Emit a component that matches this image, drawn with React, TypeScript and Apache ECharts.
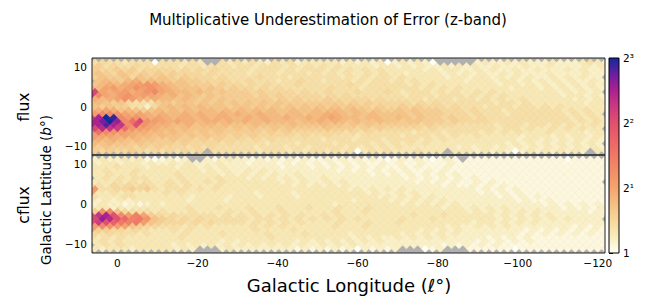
import React, { useEffect, useRef } from 'react';
import * as echarts from 'echarts';

// value levels: char index / 10 = log2(multiplicative underestimation); '.' = no data
const LEVELS = '0123456789ABCDEFGHIJKLMNOPQRSTU';

// top panel (flux): 25 rows from top (b≈+11) to bottom (b≈-11), 69 cells per row from l≈+6 to l≈-122
const FLUX_ROWS = [
  '4544344404 44343..434 3432434233 3332323230 232320.... .232232322 232223432',
  '5645445444 4434434443 4434443434 3434333323 3232322323 2322322232 232222323',
  '6556564555 5454545444 4344434344 4343434343 3333232332 2323223223 222323222',
  '6765765656 5655545444 4344434443 4343433434 3323333232 3232232322 232222322',
  '6766757667 6565554544 4454443444 4443434344 3433333233 2332323232 23232322.',
  '.787689787 7676655554 4544434454 4344434344 3434333333 2333233232 323232232',
  '78989ABCB9 8776665655 4545444544 4444543444 4434343333 3333233232 323232323',
  '98AB9ACBCA 9877767656 5545454444 4454443444 4444343434 3333332333 232323232',
  'LA9AB9ACDA 9887876766 6565555454 4544454445 4344434343 3434333333 33232323.',
  'MDA9BCABA9 8978767666 6656565555 5454544444 4434443444 3434343333 333233232',
  '989ACB9898 8787676766 6666565655 5655555454 4444344434 4343433433 333323232',
  '7876754446 7677676767 6767676666 6666565655 5554545444 4444344343 333333233',
  '7676644257 8787877767 7676767676 7676766565 5656555454 4434443443 434333332',
  '89A9787678 7878788787 8787877877 8788787676 6767666555 4544434444 444343433',
  'BDDCA9A989 8898988989 8898878878 8998787877 7767666555 4544434444 44434343.',
  'MPUTDBCA9A 9899898998 8989889889 89A9887887 7876766565 5454444444 444434343',
  'PRUQDGLCBA 9A99899898 9889888788 9898787787 7677666565 5554444444 444434343',
  'PPSPNDKCA9 9889788787 7787777877 7877676766 6666565554 4444344434 434343343',
  'LONMGCBA98 8787777767 6766767666 6766656565 5555454444 4444344343 34343433.',
  '.GDCBA9988 7877676766 6665656555 5555454544 4443444344 4434343433 343333233',
  'BAA9A98878 7767676656 5655555454 4544434444 4344434343 3433333233 323233232',
  '.989878776 6766565655 5454544444 4344434443 4444343433 3333333233 232323232',
  '8787767666 6565555454 4443444344 4434444343 4343433333 3333323232 32323232.',
  '7676665656 5554545444 4434443443 4444343434 3433333332 3233232323 232323232',
  '6565565454 54545.4444 4434443434 4343403434 3334333.33 3232320232 323232.32',
];

// bottom panel (cflux)
const CFLUX_ROWS = [
  '2322323101 212..21232 2121212121 1212121210 121210121. 1111111111 111011111',
  '3233233232 2323222322 2122212121 2121212112 1211211121 1111111111 111111111',
  '3334333233 3233232322 2222212221 2121212121 1212111211 1111111111 111111111',
  '3343334333 3333323232 2323222222 2221212121 2121121211 1111111111 111111111',
  '3343343333 3433333232 3232322322 2222222121 2121212121 1111111111 111111111',
  '.343434433 3343333433 3232323232 2322222222 2212121212 1211111111 111111111',
  '3334343433 4343343433 3333323232 2323222222 2221212121 1212111111 11111111.',
  '4435454543 4434333433 3333333232 3232322222 2222222121 1212121111 111111111',
  'B445565643 4443434333 3333333333 3333232323 2322222222 2121212111 111111111',
  'A334343333 4343333333 3323333233 3333333232 2323222222 2212121211 111111111',
  '4333443333 3332333323 3323333233 3333333323 2323232222 2222121212 111111111',
  '3232323333 3332333323 3333333333 3333323333 2323232322 2222222121 121111111',
  '2322121232 3333333333 3333333333 3323333333 3232323232 2222222222 121212121',
  '3332323333 3334333433 3433343334 3334333433 3333333233 2323232222 222121212',
  '6CD7544434 3334333343 3433343333 3343334333 3333333333 2323232323 222222121',
  'LNPKDBEA65 4544444343 4343434343 3434333333 3334333433 3333232323 232222222',
  'LQOKHEFC76 5454544444 4344343434 3434343333 3433343333 3333232323 23232222.',
  'KMKIFEFB76 5554545444 4343434343 3334333433 3433333333 3233232323 222222222',
  'BDCBA76554 4434343333 3434343333 3343334333 3333333232 2323232222 222212121',
  '.665545433 3434333333 3343333433 3333333333 3333232323 2222222212 121212121',
  '5454443433 3343333433 3334333343 3333233333 3232323232 2222222121 212121211',
  '4343433333 3343333333 3333433333 3333323232 2323232322 2221212121 111111111',
  '3434333333 3333333232 3333333232 3232323232 2222222222 2121212121 111111111',
  '.343433333 3232323232 3232323232 2323232222 2222222121 2121211111 111111111',
  '3233323333 3232...232 2222222121 2121202121 2...012... 1111110111 111111111',
];

const X_TICKS = [0, -20, -40, -60, -80, -100, -120];
const Y_TICKS = [-10, 0, 10];
const CBAR_TICKS = [0, 1, 2, 3];
const CBAR_LABELS = ['1', '2\u00b9', '2\u00b2', '2\u00b3'];

// lattice geometry (degrees)
const L_EVEN = 5.625;
const L_ODD = 6.5625;
const DL = 1.875;
const B_TOP = 11.16;
const DB = 0.93;
const CELL_W = DL;
const CELL_H = 2 * DB;

const FONT = 'DejaVu Sans';
const COLORS = [
  '#fffff5', '#f9ecbb', '#f6d79c', '#f5bf82', '#f4a56e', '#f28e68', '#ef7866',
  '#ea6468', '#e0506e', '#cb3a80', '#ab218f', '#6a1ea0', '#102a9c',
];

function toCells(rows: string[]) {
  const out: number[][] = [];
  rows.forEach((row, r) => {
    const s = row.replace(/ /g, '');
    const l0 = r % 2 === 0 ? L_EVEN : L_ODD;
    const b = B_TOP - DB * r;
    for (let j = 0; j < s.length; j++) {
      const k = LEVELS.indexOf(s[j]);
      if (k < 0) continue;
      out.push([l0 - DL * j, b, k / 10]);
    }
  });
  return out;
}

const fmtMinus = (v: number) => (v < 0 ? '\u2212' + Math.abs(v) : String(v));

function renderCell(params: any, api: any) {
  const c = api.coord([api.value(0), api.value(1)]);
  const s = api.size([CELL_W, CELL_H]);
  const hw = Math.abs(s[0]) / 2;
  const hh = Math.abs(s[1]) / 2;
  const color = api.visual('color');
  return {
    type: 'polygon',
    shape: {
      points: [
        [c[0], c[1] - hh],
        [c[0] + hw, c[1]],
        [c[0], c[1] + hh],
        [c[0] - hw, c[1]],
      ],
    },
    style: { fill: color, stroke: color, lineWidth: 0.5 },
  };
}

export default function App() {
  const ref = useRef<HTMLDivElement>(null);
  useEffect(() => {
    if (!ref.current) return;
    const chart = echarts.init(ref.current, undefined, { renderer: 'svg' });
    const yAxisFor = (gridIndex: number) => ({
      type: 'value',
      gridIndex,
      min: -12.2,
      max: 12.3,
      axisLine: { show: false },
      splitLine: { show: false },
      axisTick: { show: true, length: 4, customValues: Y_TICKS, lineStyle: { color: '#000', width: 1 } },
      axisLabel: {
        show: true, customValues: Y_TICKS, formatter: fmtMinus,
        fontSize: 10.5, fontFamily: FONT, color: '#000', margin: 5,
      },
    });
    const stops = COLORS.map((c, i) => ({ offset: i / (COLORS.length - 1), color: c }));
    const option: any = {
      animation: false,
      backgroundColor: '#fff',
      grid: [
        { left: 92, top: 58, width: 513, height: 97, show: true, backgroundColor: '#b0b0b0', borderWidth: 0 },
        { left: 92, top: 155, width: 513, height: 98, show: true, backgroundColor: '#b0b0b0', borderWidth: 0 },
        { left: 609, top: 58, width: 10, height: 195, show: false },
      ],
      xAxis: [
        {
          type: 'value', gridIndex: 0, min: -121.8, max: 6.35, inverse: true,
          axisLine: { show: false }, axisTick: { show: false }, axisLabel: { show: false }, splitLine: { show: false },
        },
        {
          type: 'value', gridIndex: 1, min: -121.8, max: 6.35, inverse: true,
          axisLine: { show: false }, splitLine: { show: false },
          axisTick: { show: true, length: 4, customValues: X_TICKS, lineStyle: { color: '#000', width: 1 } },
          axisLabel: {
            show: true, customValues: X_TICKS, formatter: fmtMinus,
            fontSize: 10.5, fontFamily: FONT, color: '#000', margin: 4,
          },
        },
        { type: 'value', gridIndex: 2, min: 0, max: 1, show: false },
      ],
      yAxis: [
        yAxisFor(0),
        yAxisFor(1),
        {
          type: 'value', gridIndex: 2, min: 0, max: 3, position: 'right',
          axisLine: { show: false }, splitLine: { show: false },
          axisTick: { show: true, length: 4, customValues: CBAR_TICKS, lineStyle: { color: '#000', width: 1 } },
          axisLabel: {
            show: true, customValues: CBAR_TICKS,
            formatter: (v: number) => CBAR_LABELS[CBAR_TICKS.indexOf(v)] ?? '',
            fontSize: 10.5, fontFamily: FONT, color: '#000', margin: 4,
          },
        },
      ],
      visualMap: {
        type: 'continuous', show: false, min: 0, max: 3, dimension: 2, seriesIndex: [0, 1],
        inRange: { color: COLORS },
      },
      series: [
        {
          type: 'custom', name: 'flux', xAxisIndex: 0, yAxisIndex: 0, clip: true,
          encode: { x: 0, y: 1 }, data: toCells(FLUX_ROWS), renderItem: renderCell,
        },
        {
          type: 'custom', name: 'cflux', xAxisIndex: 1, yAxisIndex: 1, clip: true,
          encode: { x: 0, y: 1 }, data: toCells(CFLUX_ROWS), renderItem: renderCell,
        },
        {
          type: 'custom', name: 'colorbar', xAxisIndex: 2, yAxisIndex: 2, silent: true,
          data: [[0.5, 1.5]],
          renderItem: (params: any) => {
            const cs = params.coordSys;
            return {
              type: 'rect',
              shape: { x: cs.x, y: cs.y, width: cs.width, height: cs.height },
              style: { fill: new echarts.graphic.LinearGradient(0, 1, 0, 0, stops), stroke: '#000', lineWidth: 1 },
            };
          },
        },
      ],
      graphic: [
        { type: 'rect', z: 100, silent: true, shape: { x: 92, y: 58, width: 513, height: 97 }, style: { fill: 'none', stroke: '#222', lineWidth: 1 } },
        { type: 'rect', z: 100, silent: true, shape: { x: 92, y: 155, width: 513, height: 98 }, style: { fill: 'none', stroke: '#222', lineWidth: 1 } },
        {
          type: 'text', x: 328, y: 20, z: 100,
          style: { text: 'Multiplicative Underestimation of Error (z-band)', fontSize: 15, fontFamily: FONT, fill: '#000', align: 'center', verticalAlign: 'middle' },
        },
        {
          type: 'text', x: 349, y: 285, z: 100,
          style: {
            text: 'Galactic Longitude ({i|\u2113}\u00b0)', fontSize: 18, fontFamily: FONT, fill: '#000', align: 'center', verticalAlign: 'middle',
            rich: { i: { fontStyle: 'italic', fontSize: 18, fontFamily: FONT, fill: '#000' } },
          },
        },
        {
          type: 'text', x: 24, y: 107, z: 100, rotation: Math.PI / 2,
          style: { text: 'flux', fontSize: 15.5, fontFamily: FONT, fill: '#000', align: 'center', verticalAlign: 'middle' },
        },
        {
          type: 'text', x: 24, y: 205, z: 100, rotation: Math.PI / 2,
          style: { text: 'cflux', fontSize: 15.5, fontFamily: FONT, fill: '#000', align: 'center', verticalAlign: 'middle' },
        },
        {
          type: 'text', x: 46, y: 190, z: 100, rotation: Math.PI / 2,
          style: {
            text: 'Galactic Lattitude ({i|b}\u00b0)', fontSize: 13.5, fontFamily: FONT, fill: '#000', align: 'center', verticalAlign: 'middle',
            rich: { i: { fontStyle: 'italic', fontSize: 13.5, fontFamily: FONT, fill: '#000' } },
          },
        },
      ],
    };
    chart.setOption(option);
    return () => chart.dispose();
  }, []);
  return (
    <div
      ref={ref}
      style={{ position: 'fixed', left: 0, top: 0, width: 657, height: 297, background: '#fff' }}
    />
  );
}
